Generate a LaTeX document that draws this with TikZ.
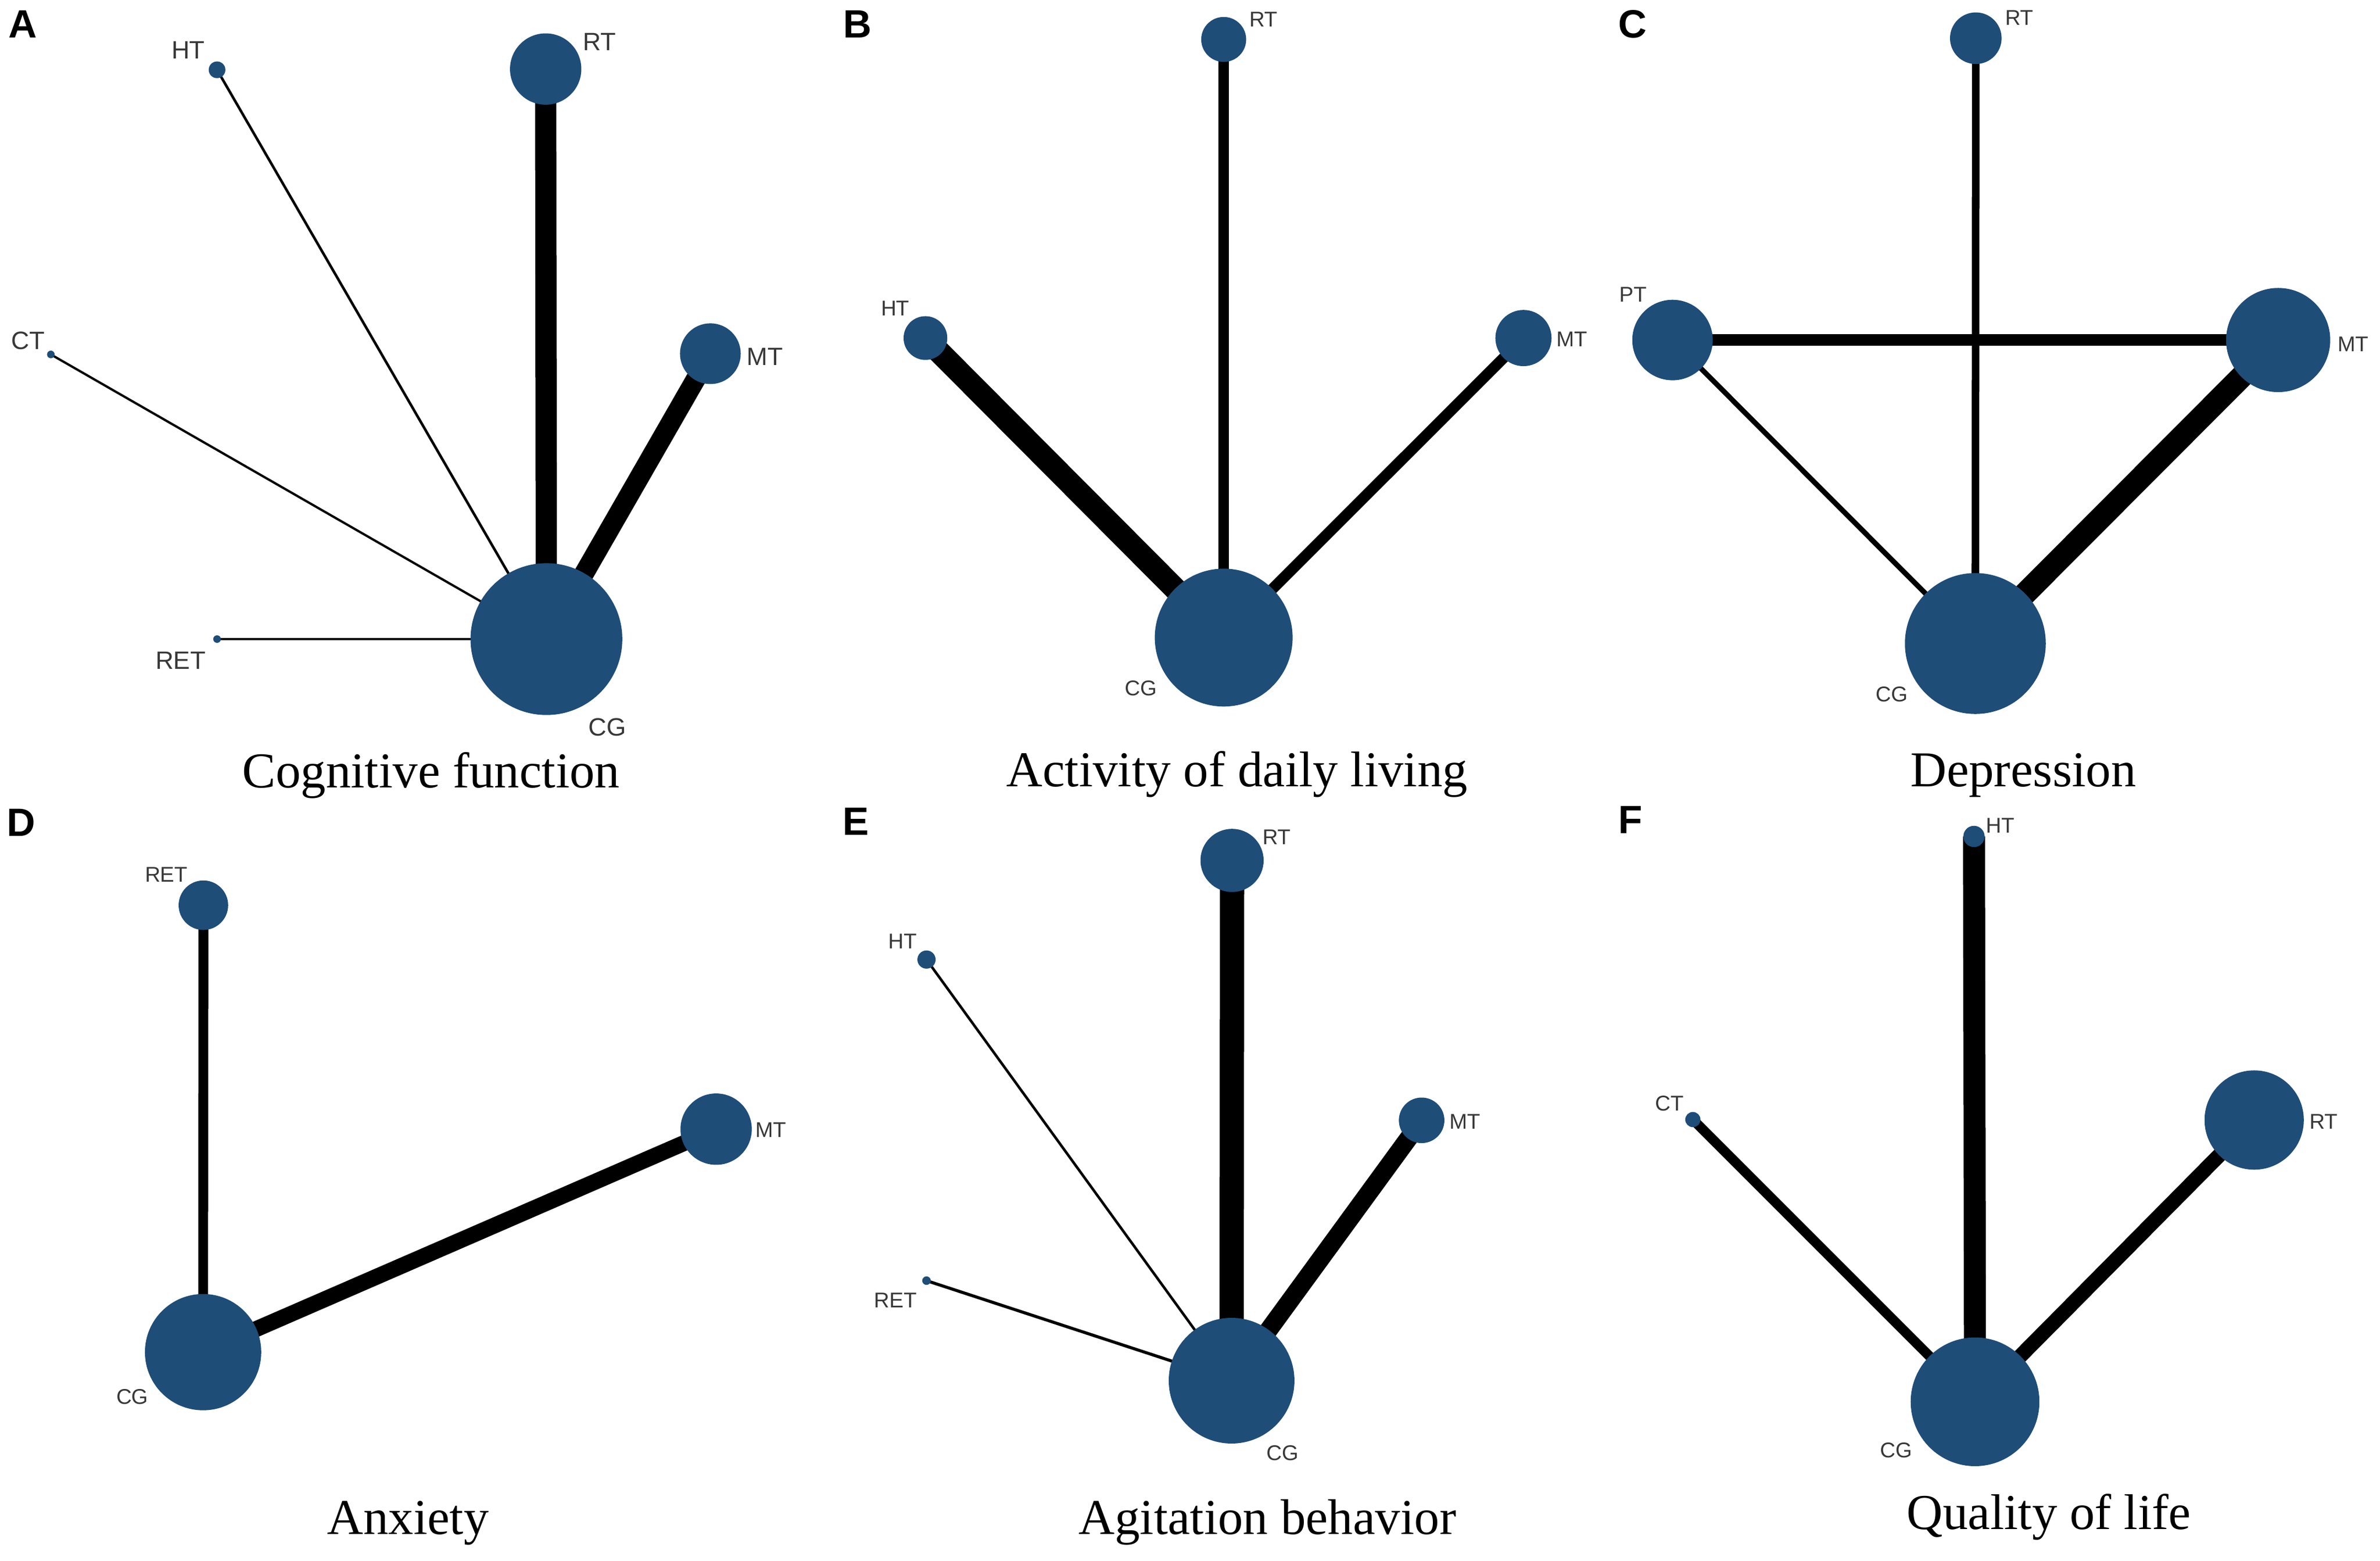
\documentclass[tikz,border=0pt]{standalone}
\usepackage{fontspec}
\setmainfont{Liberation Serif}
\setsansfont{Liberation Sans}
\usepackage{xcolor}
\usepackage{tikz}
\usetikzlibrary{backgrounds}
\definecolor{netblue}{RGB}{30,77,120}

\begin{document}
\begin{tikzpicture}[x=0.1mm,y=-0.1mm,
		trt/.style={circle,fill=netblue,inner sep=0pt,minimum size=#1*0.2mm},
		lbl/.style={font=\sffamily\fontsize{4pt}{4pt}\selectfont,text=black!78,inner sep=0pt},
		lbla/.style={lbl,font=\sffamily\fontsize{4.7pt}{4.7pt}\selectfont},
		ttl/.style={font=\fontsize{9.4pt}{10pt}\selectfont,anchor=base,inner sep=0pt},
		pnl/.style={font=\sffamily\bfseries\fontsize{7.4pt}{7.4pt}\selectfont,inner sep=0pt}]
	\useasboundingbox (0,0) rectangle (1568,1028);
	% A
	\node[trt=50] (a-cg) at (360,421) {};
	\node[trt=23.5] (a-rt) at (359.5,45.5) {};
	\node[trt=5.5] (a-ht) at (143,46) {};
	\node[trt=2.5] (a-ct) at (33.5,233.5) {};
	\node[trt=20] (a-mt) at (468,233) {};
	\node[trt=2.5] (a-ret) at (143,421) {};
	\node[lbla] (a-cg-l) at (400,479) {CG};
	\node[lbla] (a-rt-l) at (395,27.5) {RT};
	\node[lbla] (a-ht-l) at (124,33) {HT};
	\node[lbla] (a-ct-l) at (18.5,224.5) {CT};
	\node[lbla] (a-mt-l) at (504,235) {MT};
	\node[lbla] (a-ret-l) at (119,435) {RET};
	\node[ttl] (a-t) at (284,519) {Cognitive function};
	\node[pnl] (a-p) at (15,16) {A};
	% B
	\node[trt=45.4] (b-cg) at (806.2,420) {};
	\node[trt=14.8] (b-rt) at (806.2,26) {};
	\node[trt=14.4] (b-ht) at (609.7,222.7) {};
	\node[trt=18.5] (b-mt) at (1003.7,222.7) {};
	\node[lbl] (b-cg-l) at (751.7,453.4) {CG};
	\node[lbl] (b-rt-l) at (832.4,12.8) {RT};
	\node[lbl] (b-ht-l) at (589.8,203.2) {HT};
	\node[lbl] (b-mt-l) at (1035.6,223.4) {MT};
	\node[ttl] (b-t) at (815,518) {Activity of daily living};
	\node[pnl] (b-p) at (565,16) {B};
	% C
	\node[trt=46.4] (c-cg) at (1301.4,423.9) {};
	\node[trt=17] (c-rt) at (1301.7,25.2) {};
	\node[trt=26.5] (c-pt) at (1101.9,224) {};
	\node[trt=34.3] (c-mt) at (1500.9,224) {};
	\node[lbl] (c-cg-l) at (1246.3,457.5) {CG};
	\node[lbl] (c-rt-l) at (1330.3,11.8) {RT};
	\node[lbl] (c-pt-l) at (1076,194.1) {PT};
	\node[lbl] (c-mt-l) at (1550.2,226.7) {MT};
	\node[ttl] (c-t) at (1333,518) {Depression};
	\node[pnl] (c-p) at (1075.5,16) {C};
	% D
	\node[trt=38.3] (d-cg) at (133.8,890.7) {};
	\node[trt=16.3] (d-ret) at (134,596.3) {};
	\node[trt=23.5] (d-mt) at (471.8,743.8) {};
	\node[lbl] (d-cg-l) at (87.2,920) {CG};
	\node[lbl] (d-ret-l) at (109.6,576) {RET};
	\node[lbl] (d-mt-l) at (508,744.2) {MT};
	\node[ttl] (d-t) at (268.8,1010.7) {Anxiety};
	\node[pnl] (d-p) at (14,542) {D};
	% E
	\node[trt=41.4] (e-cg) at (811.4,909.5) {};
	\node[trt=20.8] (e-rt) at (811.7,566.8) {};
	\node[trt=6] (e-ht) at (610.4,632.1) {};
	\node[trt=15] (e-mt) at (936.6,738) {};
	\node[trt=2.8] (e-ret) at (610.4,843.6) {};
	\node[lbl] (e-cg-l) at (845,957) {CG};
	\node[lbl] (e-rt-l) at (841.2,551.3) {RT};
	\node[lbl] (e-ht-l) at (594.6,620) {HT};
	\node[lbl] (e-mt-l) at (965.1,739) {MT};
	\node[lbl] (e-ret-l) at (590,856.4) {RET};
	\node[ttl] (e-t) at (835,1010.7) {Agitation behavior};
	\node[pnl] (e-p) at (564,541) {E};
	% F
	\node[trt=42.4] (f-cg) at (1301.2,923.4) {};
	\node[trt=7] (f-ht) at (1300.5,551) {};
	\node[trt=5] (f-ct) at (1115.3,737.5) {};
	\node[trt=32.7] (f-rt) at (1485.1,737.8) {};
	\node[lbl] (f-cg-l) at (1249.2,955.3) {CG};
	\node[lbl] (f-ht-l) at (1317.9,543.7) {HT};
	\node[lbl] (f-ct-l) at (1100,726.8) {CT};
	\node[lbl] (f-rt-l) at (1530.9,739) {RT};
	\node[ttl] (f-t) at (1349.8,1007.5) {Quality of life};
	\node[pnl] (f-p) at (1074,540) {F};
	\begin{scope}[on background layer]
		\foreach \n/\w in {rt/14,mt/13,ht/1.7,ct/1.5,ret/1.5}
			\draw[line width=\w*0.1mm] (a-cg.center) -- (a-\n.center);
		\foreach \n/\w in {ht/15,rt/6.7,mt/7.2}
			\draw[line width=\w*0.1mm] (b-cg.center) -- (b-\n.center);
		\foreach \n/\w in {rt/5,pt/3.4,mt/15}
			\draw[line width=\w*0.1mm] (c-cg.center) -- (c-\n.center);
		\draw[line width=0.74mm] (c-pt.center) -- (c-mt.center);
		\foreach \n/\w in {ret/6.5,mt/10.5}
			\draw[line width=\w*0.1mm] (d-cg.center) -- (d-\n.center);
		\foreach \n/\w in {rt/16,mt/12,ht/1.7,ret/2}
			\draw[line width=\w*0.1mm] (e-cg.center) -- (e-\n.center);
		\foreach \n/\w in {ht/14.5,ct/6.5,rt/9.7}
			\draw[line width=\w*0.1mm] (f-cg.center) -- (f-\n.center);
	\end{scope}
\end{tikzpicture}
\end{document}
